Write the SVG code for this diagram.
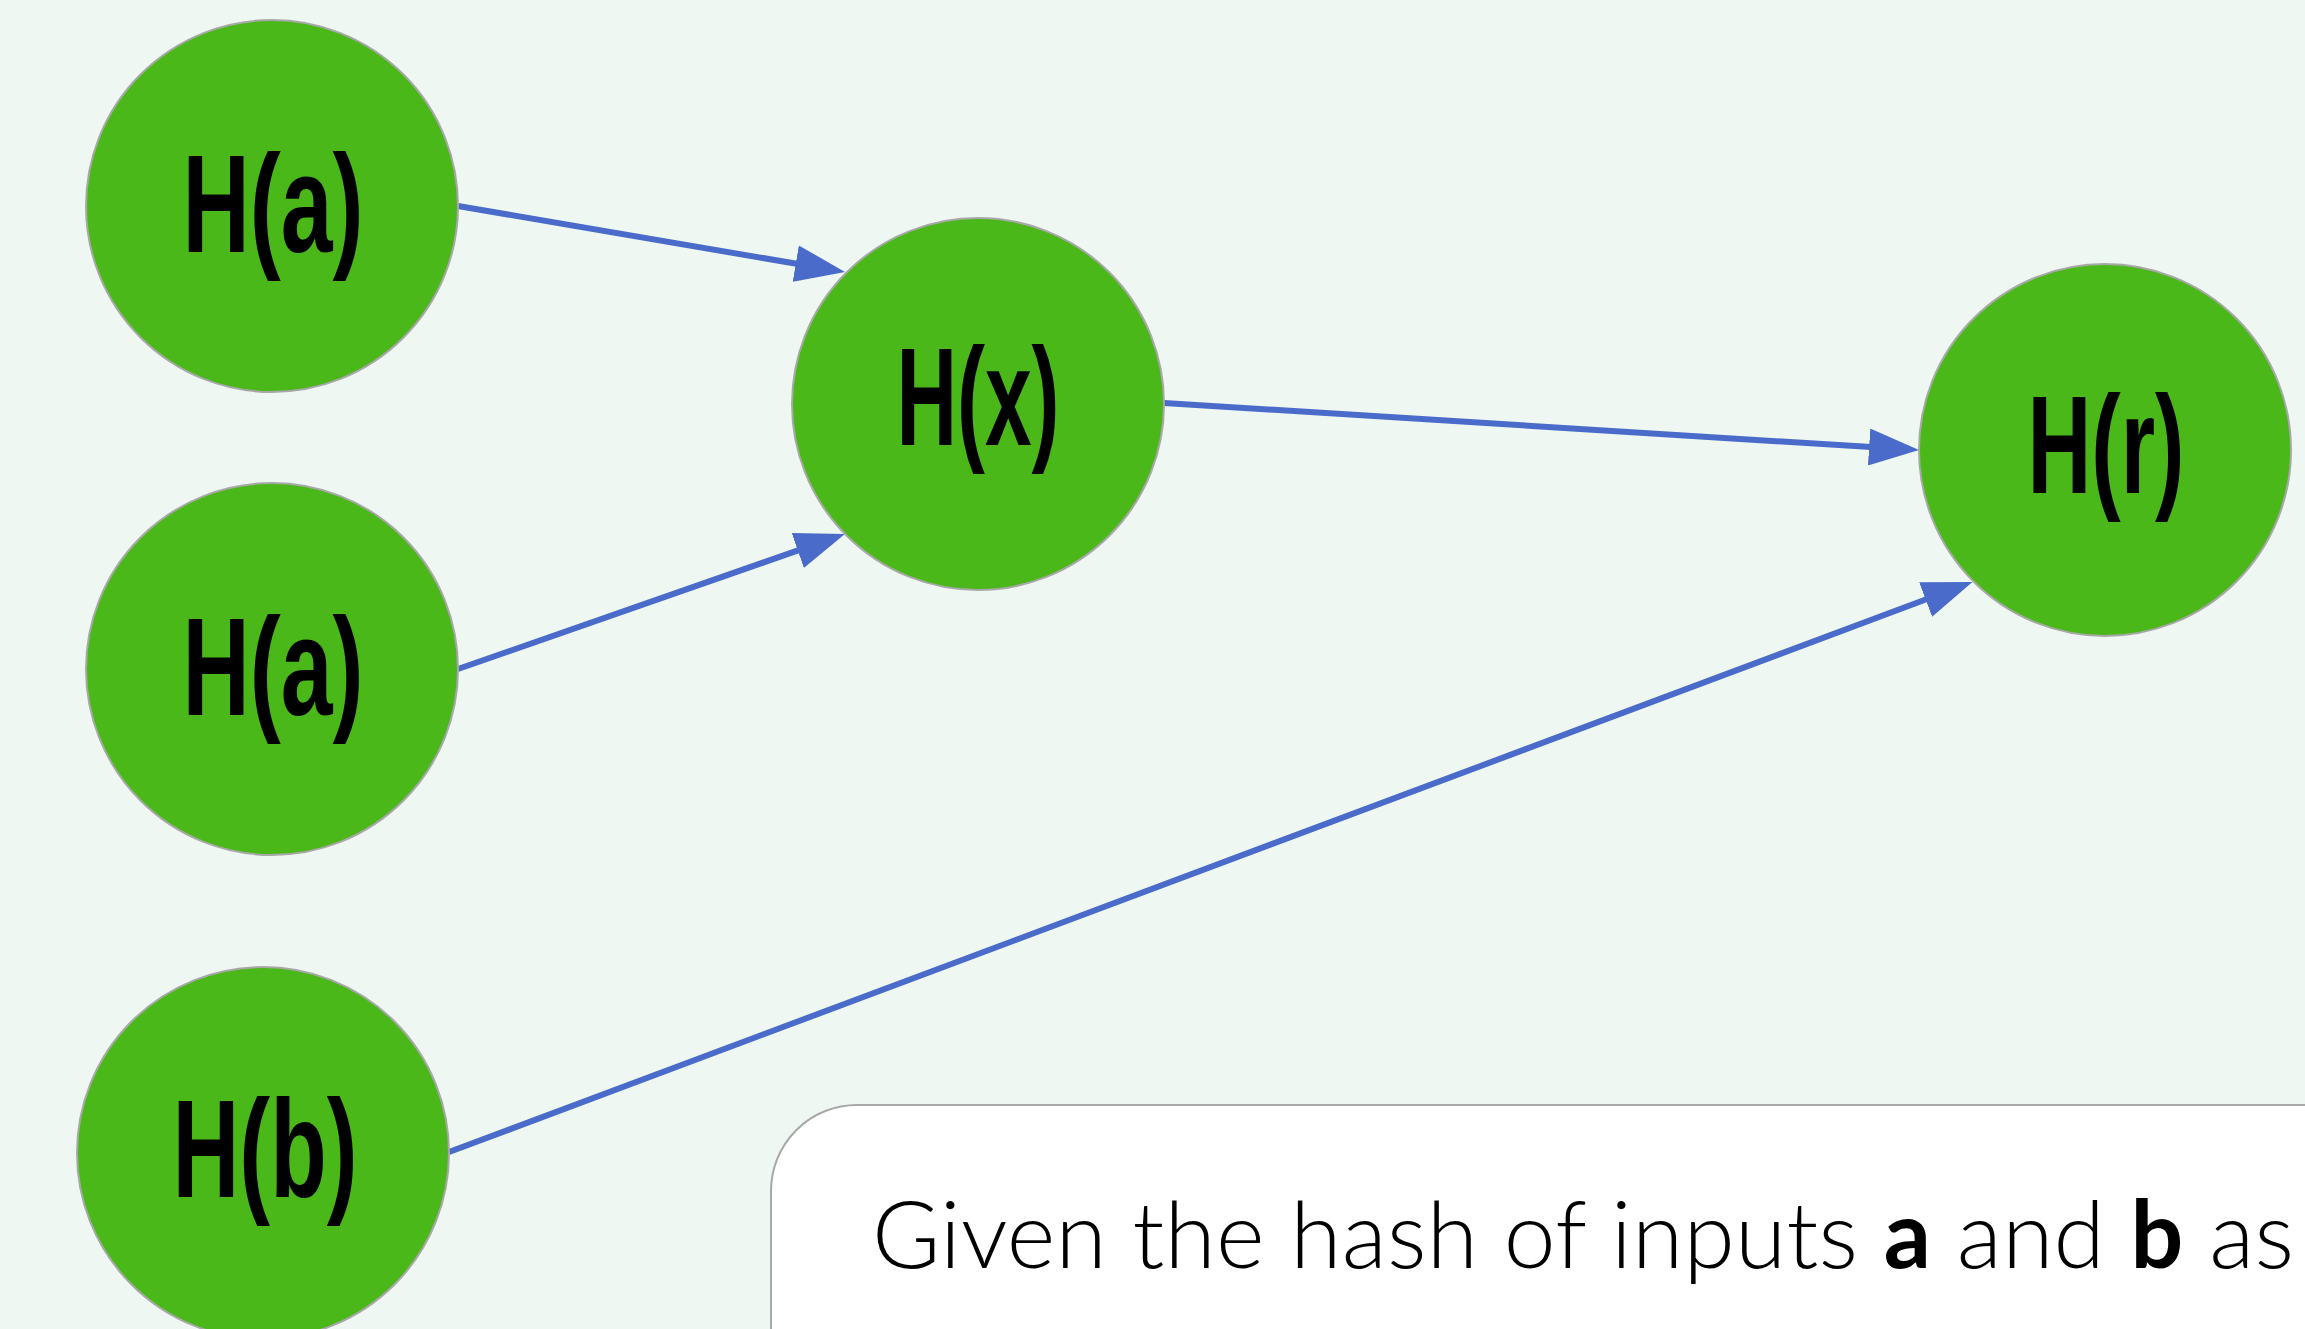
<svg xmlns="http://www.w3.org/2000/svg" width="2305" height="1329" viewBox="0 0 2305 1329">
<defs>
<style>
.node{fill:#4ab819;stroke:#a8a8a8;stroke-width:2}
.lbl{font-family:"Liberation Sans Narrow","Liberation Sans",Arial,sans-serif;font-weight:bold;font-size:140px;fill:#000;text-anchor:middle}
.edge{stroke:#4a6bca;stroke-width:6;fill:none}
.cap{font-family:Lato,"Noto Sans",sans-serif;font-weight:300;font-size:93px;fill:#000}
</style>
<marker id="arr" viewBox="0 0 50 37" markerUnits="userSpaceOnUse" markerWidth="50" markerHeight="37" refX="10" refY="18.5" orient="auto">
<path d="M0,0 L50,18.5 L0,37 z" fill="#4a6bca"/>
</marker>
</defs>
<rect x="0" y="0" width="2305" height="1329" fill="#eef7f1"/>
<g id="connectors">
<line class="edge" x1="458" y1="206" x2="805.6" y2="265.3" marker-end="url(#arr)"/>
<line class="edge" x1="458" y1="669" x2="807.2" y2="547.2" marker-end="url(#arr)"/>
<line class="edge" x1="1164" y1="403" x2="1879.1" y2="447.6" marker-end="url(#arr)"/>
<line class="edge" x1="449" y1="1152" x2="1935" y2="596" marker-end="url(#arr)"/>
</g>
<g id="node-ha1">
<circle class="node" cx="272" cy="206" r="186"/>
<text class="lbl" x="273" y="252" textLength="181" lengthAdjust="spacingAndGlyphs">H(a)</text>
</g>
<g id="node-ha2">
<circle class="node" cx="272" cy="669" r="186"/>
<text class="lbl" x="273" y="715" textLength="181" lengthAdjust="spacingAndGlyphs">H(a)</text>
</g>
<g id="node-hb">
<circle class="node" cx="263" cy="1153" r="186"/>
<text class="lbl" x="265" y="1197" textLength="185" lengthAdjust="spacingAndGlyphs">H(b)</text>
</g>
<g id="node-hx">
<circle class="node" cx="978" cy="404" r="186"/>
<text class="lbl" x="978" y="445" textLength="163" lengthAdjust="spacingAndGlyphs">H(x)</text>
</g>
<g id="node-hr">
<circle class="node" cx="2105" cy="450" r="186"/>
<text class="lbl" x="2106" y="493" textLength="157" lengthAdjust="spacingAndGlyphs">H(r)</text>
</g>
<g id="textbox">
<rect x="771" y="1105" width="1700" height="400" rx="86" ry="86" fill="#ffffff" stroke="#a8a8a8" stroke-width="2"/>
<text class="cap" x="872" y="1268" textLength="1422" lengthAdjust="spacing">Given the hash of inputs <tspan font-weight="bold">a</tspan> and <tspan font-weight="bold">b</tspan> as</text>
</g>
</svg>
